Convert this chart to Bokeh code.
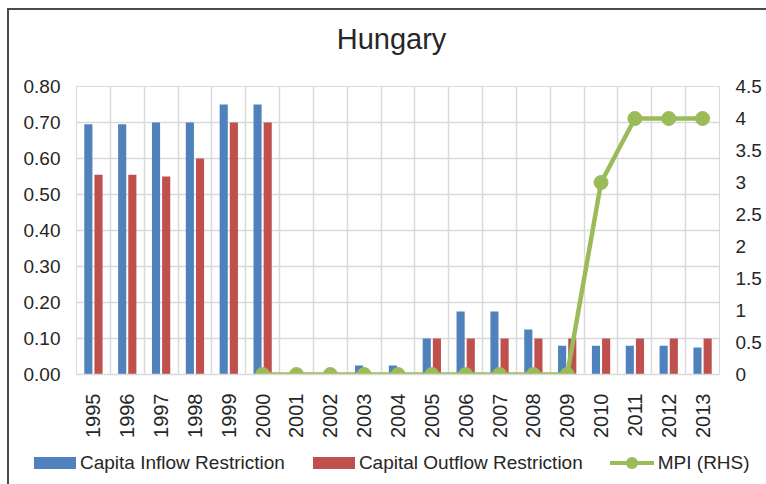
import math
from bokeh.plotting import figure
from bokeh.layouts import row, column
from bokeh.models import Range1d, LinearAxis, FixedTicker, ColumnDataSource, Spacer, Div
from bokeh.embed import file_html
from bokeh.resources import INLINE

title_text = "Hungary"
years = ["1995", "1996", "1997", "1998", "1999", "2000", "2001", "2002", "2003", "2004",
         "2005", "2006", "2007", "2008", "2009", "2010", "2011", "2012", "2013"]
inflow = [0.695, 0.695, 0.70, 0.70, 0.75, 0.75, 0.0, 0.0, 0.025, 0.025,
          0.10, 0.175, 0.175, 0.125, 0.08, 0.08, 0.08, 0.08, 0.075]
outflow = [0.555, 0.555, 0.55, 0.60, 0.70, 0.70, 0.0, 0.0, 0.0, 0.0,
           0.10, 0.10, 0.10, 0.10, 0.10, 0.10, 0.10, 0.10, 0.10]
mpi_years = ["2000", "2001", "2002", "2003", "2004", "2005", "2006", "2007",
             "2008", "2009", "2010", "2011", "2012", "2013"]
mpi = [0, 0, 0, 0, 0, 0, 0, 0, 0, 0, 3, 4, 4, 4]

left_ticks = [0.0, 0.1, 0.2, 0.3, 0.4, 0.5, 0.6, 0.7, 0.8]
right_ticks = [0, 0.5, 1, 1.5, 2, 2.5, 3, 3.5, 4, 4.5]
series_names = ["Capita Inflow Restriction", "Capital Outflow Restriction", "MPI (RHS)"]

BLUE = "#4F81BD"
RED = "#C0504D"
GREEN = "#9BBB59"
GRID = "#D9D9D9"
TEXT = "#262626"
FONT = "Liberation Sans"

idx = list(range(len(years)))
centers = [i + 0.5 for i in idx]
bar_w = 0.24
off = 0.15

src = ColumnDataSource(dict(
    xin=[c - off for c in centers],
    xout=[c + off for c in centers],
    inflow=inflow, outflow=outflow))
msrc = ColumnDataSource(dict(
    x=[years.index(y) + 0.5 for y in mpi_years], mpi=mpi))

p = figure(width=755, height=372, output_backend="svg", toolbar_location=None,
           x_range=Range1d(0, len(years)), y_range=Range1d(0, 0.8),
           min_border_left=67, min_border_right=42, min_border_top=18, min_border_bottom=65)
p.extra_y_ranges = {"mpi": Range1d(0, 4.5)}

p.outline_line_color = GRID
p.background_fill_color = "white"
p.border_fill_color = "white"

# grids
p.xgrid.ticker = FixedTicker(ticks=list(range(len(years) + 1)))
p.xgrid.grid_line_color = GRID
p.xgrid.grid_line_width = 1.5
p.ygrid.ticker = FixedTicker(ticks=left_ticks)
p.ygrid.grid_line_color = GRID
p.ygrid.grid_line_width = 1.5

# x axis
xa = p.xaxis[0]
xa.ticker = FixedTicker(ticks=centers)
xa.major_label_overrides = {c: y for c, y in zip(centers, years)}
xa.major_label_orientation = math.pi / 2
xa.major_label_text_font = FONT
xa.major_label_text_font_size = "20px"
xa.major_label_text_color = TEXT
xa.major_label_standoff = 13
xa.major_tick_line_color = None
xa.minor_tick_line_color = None
xa.axis_line_color = GRID
xa.axis_line_width = 1.5

# left axis
ya = p.yaxis[0]
ya.ticker = FixedTicker(ticks=left_ticks)
ya.major_label_overrides = {t: f"{t:.2f}" for t in left_ticks}
ya.major_label_text_font = FONT
ya.major_label_text_font_size = "19px"
ya.major_label_text_color = TEXT
ya.major_label_standoff = 10
ya.major_tick_line_color = None
ya.minor_tick_line_color = None
ya.axis_line_color = None

# right axis
ra = LinearAxis(y_range_name="mpi", ticker=FixedTicker(ticks=right_ticks))
ra.major_label_overrides = {t: (f"{t:g}") for t in right_ticks}
ra.major_label_text_font = FONT
ra.major_label_text_font_size = "19px"
ra.major_label_text_color = TEXT
ra.major_label_standoff = 10
ra.major_tick_line_color = None
ra.minor_tick_line_color = None
ra.axis_line_color = None
p.add_layout(ra, "right")

p.vbar(x="xin", top="inflow", width=bar_w, source=src, fill_color=BLUE, line_color=None)
p.vbar(x="xout", top="outflow", width=bar_w, source=src, fill_color=RED, line_color=None)
p.line(x="x", y="mpi", source=msrc, y_range_name="mpi", line_color=GREEN, line_width=4.5)
p.scatter(x="x", y="mpi", source=msrc, y_range_name="mpi", size=14,
          fill_color=GREEN, line_color=GREEN)

# title as real text above the plot
title_div = Div(
    text=(f'<div style="font-family:\'{FONT}\';font-size:29px;color:{TEXT};text-align:center;'
          f'width:730px;padding-left:25px;height:48px;line-height:48px;white-space:nowrap;">'
          f'{title_text}</div>'),
    width=755, height=48)

# legend strip as real text below the plot
box = "display:inline-block;width:42px;height:12px;margin-right:4px;vertical-align:middle;background:{}"
mark = ("display:inline-block;position:relative;width:44px;height:14px;margin-right:4px;vertical-align:middle;"
        "background:linear-gradient({c},{c}) 0 5px/100% 4px no-repeat")
dot = "position:absolute;left:16px;top:1px;width:12px;height:12px;border-radius:50%;background:{}"
html = (
    f'<div style="font-family:\'{FONT}\';font-size:19px;color:{TEXT};white-space:nowrap;'
    f'height:42px;line-height:34px;padding-left:20px;">'
    f'<span style="{box.format(BLUE)}"></span><span style="vertical-align:middle;margin-right:28px">{series_names[0]}</span>'
    f'<span style="{box.format(RED)}"></span><span style="vertical-align:middle;margin-right:27px">{series_names[1]}</span>'
    f'<span style="{mark.format(c=GREEN)}"><span style="{dot.format(GREEN)}"></span></span>'
    f'<span style="vertical-align:middle">{series_names[2]}</span>'
    f'</div>'
)
leg = Div(text=html, width=755, height=42)

inner = column(title_div, p, leg, spacing=0)
inner.styles = {"border-left": "2px solid #4a4a4a", "border-top": "2px solid #4a4a4a"}
layout = column(Spacer(height=8), row(Spacer(width=7), inner, spacing=0), spacing=0)
open("out.html", "w").write(file_html(layout, INLINE))
